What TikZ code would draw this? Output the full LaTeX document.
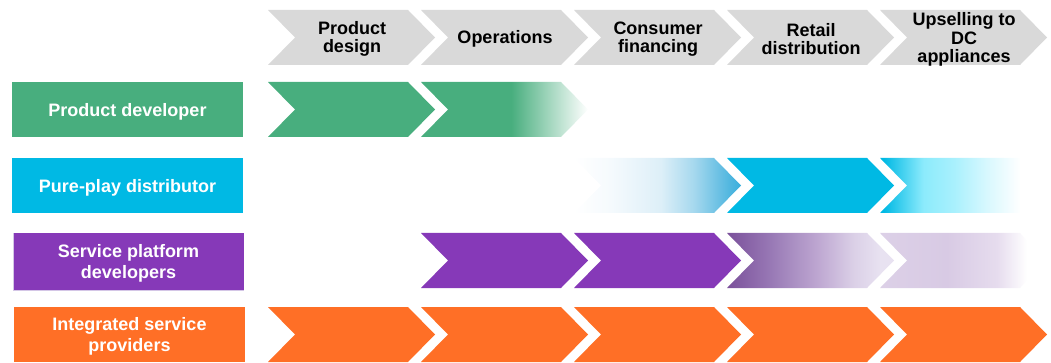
\documentclass[tikz,border=0pt]{standalone}
\usepackage{fontspec}
\setmainfont{Liberation Sans}
\usetikzlibrary{positioning}

\definecolor{hdrgray}{HTML}{D9D9D9}
\definecolor{devgreen}{HTML}{48AE7E}
\definecolor{distcyan}{HTML}{00B9E4}
\definecolor{platpurple}{HTML}{8639B8}
\definecolor{intorange}{HTML}{FF6F26}
\definecolor{lavline}{HTML}{D4C6E6}
% stops of the fades
\definecolor{cya}{HTML}{F5FAFD}
\definecolor{cyb}{HTML}{DDEFF8}
\definecolor{cyc}{HTML}{A5D8EE}
\definecolor{cyd}{HTML}{55B8E0}
\definecolor{cye}{HTML}{3AAFDD}
\definecolor{cyf}{HTML}{8CEBFC}
\definecolor{cyg}{HTML}{A8F0FD}
\definecolor{cyh}{HTML}{D8F8FE}
\definecolor{pua}{HTML}{7B519B}
\definecolor{pub}{HTML}{9878B5}
\definecolor{puc}{HTML}{C0AAD3}
\definecolor{pud}{HTML}{DBD0E7}
\definecolor{pue}{HTML}{E8E2F1}
\definecolor{lva}{HTML}{DCD0E7}
\definecolor{lvb}{HTML}{D8CAE4}
\definecolor{lvc}{HTML}{E6DCEE}

% fades used on the partial steps
\pgfdeclarehorizontalshading{greenfade}{100bp}{color(0bp)=(devgreen); color(52bp)=(devgreen); color(75bp)=(white); color(100bp)=(white)}
\pgfdeclarehorizontalshading{cyanin}{100bp}{color(0bp)=(white); color(25bp)=(white); color(36bp)=(cya); color(51bp)=(cyb); color(61bp)=(cyc); color(71bp)=(cyd); color(75bp)=(cye); color(100bp)=(cye)}
\pgfdeclarehorizontalshading{cyanout}{100bp}{color(0bp)=(distcyan); color(26bp)=(distcyan); color(38bp)=(cyf); color(47bp)=(cyg); color(57bp)=(cyh); color(67bp)=(white); color(100bp)=(white)}
\pgfdeclarehorizontalshading{purplefade}{100bp}{color(0bp)=(pua); color(25bp)=(pua); color(38bp)=(pub); color(53bp)=(puc); color(63bp)=(pud); color(71bp)=(pue); color(100bp)=(pue)}
\pgfdeclarehorizontalshading{lavfade}{100bp}{color(0bp)=(lva); color(25bp)=(lva); color(45bp)=(lvb); color(60bp)=(lvc); color(69bp)=(white); color(100bp)=(white)}

% one chevron step, top-left corner at (#1,#2)
\newcommand{\chevpath}[2]{(#1,#2) -- ++(140,0) -- ++(27,27.5) -- ++(-27,27.5) -- ++(-140,0) -- ++(27,-27.5) -- cycle}

\begin{document}
\begin{tikzpicture}[x=1pt, y=-1pt,
  hdrtext/.style={font=\bfseries\fontsize{18}{18.5}\selectfont, align=center, text=black, inner sep=0pt},
  rowtext/.style={font=\bfseries\fontsize{18}{21.5}\selectfont, align=center, text=white, inner sep=0pt}]
\useasboundingbox (0,0) rectangle (1051,363);

% header steps
\foreach \x in {268,421,574,727,880} {
  \fill[hdrgray] \chevpath{\x}{10};
}
\node[hdrtext] (hdrdesign) at (352,39) {Product\\design};
\node[hdrtext] (hdrops) at (505,39) {Operations};
\node[hdrtext] (hdrfin) at (658,39) {Consumer\\financing};
\node[hdrtext] (hdrretail) at (811,39) {Retail\\distribution};
\node[hdrtext] (hdrupsell) at (964,39.5) {Upselling to\\DC\\appliances};

% product developer
\fill[devgreen] (12,82) rectangle (243,137);
\node[rowtext] (rowdev) at (127.5,112) {Product developer};
\fill[devgreen] \chevpath{268}{82};
\shade[shading=greenfade] \chevpath{421}{82};

% pure-play distributor
\fill[distcyan] (12,158) rectangle (243,213);
\node[rowtext] (rowdist) at (127.5,188) {Pure-play distributor};
\shade[shading=cyanin] \chevpath{574}{158};
\fill[distcyan] \chevpath{727}{158};
\shade[shading=cyanout] \chevpath{880}{158};

% service platform developers
\fill[platpurple] (13,233) rectangle (244,290);
\draw[lavline, line width=0.8pt] (13,233) -- (13,290) -- (244,290);
\node[rowtext] (rowplat) at (128.5,263.5) {Service platform\\developers};
\fill[platpurple] \chevpath{421}{233};
\fill[platpurple] \chevpath{574}{233};
\shade[shading=purplefade] \chevpath{727}{233};
\shade[shading=lavfade] \chevpath{880}{233};

% integrated service providers
\fill[intorange] (14,307) rectangle (245,362);
\node[rowtext] (rowint) at (129.5,336.5) {Integrated service\\providers};
\foreach \x in {268,421,574,727,880} {
  \fill[intorange] \chevpath{\x}{307};
}
\end{tikzpicture}
\end{document}
